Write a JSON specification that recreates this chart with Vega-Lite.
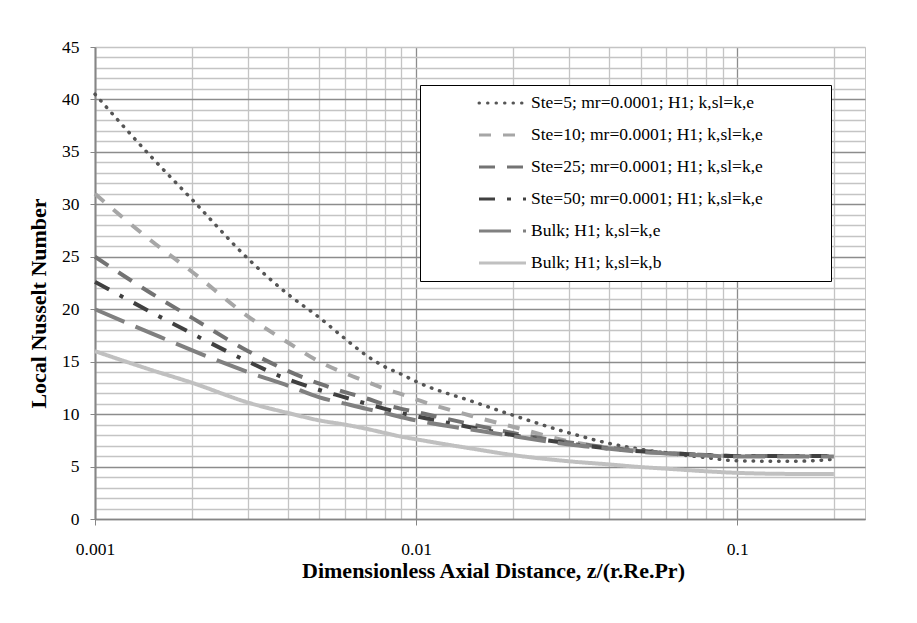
{
  "$schema": "https://vega.github.io/schema/vega-lite/v6.json",
  "width": 770,
  "height": 472,
  "autosize": "none",
  "padding": {"left": 95, "top": 47, "right": 52, "bottom": 104},
  "background": "white",
  "config": {
    "font": "Liberation Serif",
    "view": {"stroke": "#c4c4c4", "strokeWidth": 1},
    "axis": {"labelFont": "Liberation Serif", "titleFont": "Liberation Serif"},
    "legend": {"labelFont": "Liberation Serif"}
  },
  "datasets": {
    "nusselt": [
      {"z": 0.001, "Nu": 40.5, "series": "Ste=5; mr=0.0001; H1; k,sl=k,e"},
      {"z": 0.0015, "Nu": 34.5, "series": "Ste=5; mr=0.0001; H1; k,sl=k,e"},
      {"z": 0.002, "Nu": 30.5, "series": "Ste=5; mr=0.0001; H1; k,sl=k,e"},
      {"z": 0.003, "Nu": 24.8, "series": "Ste=5; mr=0.0001; H1; k,sl=k,e"},
      {"z": 0.004, "Nu": 21.4, "series": "Ste=5; mr=0.0001; H1; k,sl=k,e"},
      {"z": 0.005, "Nu": 19.2, "series": "Ste=5; mr=0.0001; H1; k,sl=k,e"},
      {"z": 0.006, "Nu": 17.2, "series": "Ste=5; mr=0.0001; H1; k,sl=k,e"},
      {"z": 0.007, "Nu": 15.6, "series": "Ste=5; mr=0.0001; H1; k,sl=k,e"},
      {"z": 0.008, "Nu": 14.5, "series": "Ste=5; mr=0.0001; H1; k,sl=k,e"},
      {"z": 0.009, "Nu": 13.8, "series": "Ste=5; mr=0.0001; H1; k,sl=k,e"},
      {"z": 0.01, "Nu": 13.1, "series": "Ste=5; mr=0.0001; H1; k,sl=k,e"},
      {"z": 0.015, "Nu": 11.2, "series": "Ste=5; mr=0.0001; H1; k,sl=k,e"},
      {"z": 0.02, "Nu": 9.9, "series": "Ste=5; mr=0.0001; H1; k,sl=k,e"},
      {"z": 0.03, "Nu": 8.2, "series": "Ste=5; mr=0.0001; H1; k,sl=k,e"},
      {"z": 0.04, "Nu": 7.2, "series": "Ste=5; mr=0.0001; H1; k,sl=k,e"},
      {"z": 0.05, "Nu": 6.65, "series": "Ste=5; mr=0.0001; H1; k,sl=k,e"},
      {"z": 0.06, "Nu": 6.3, "series": "Ste=5; mr=0.0001; H1; k,sl=k,e"},
      {"z": 0.08, "Nu": 5.85, "series": "Ste=5; mr=0.0001; H1; k,sl=k,e"},
      {"z": 0.1, "Nu": 5.55, "series": "Ste=5; mr=0.0001; H1; k,sl=k,e"},
      {"z": 0.15, "Nu": 5.5, "series": "Ste=5; mr=0.0001; H1; k,sl=k,e"},
      {"z": 0.2, "Nu": 5.7, "series": "Ste=5; mr=0.0001; H1; k,sl=k,e"},

      {"z": 0.001, "Nu": 31.0, "series": "Ste=10; mr=0.0001; H1; k,sl=k,e"},
      {"z": 0.0015, "Nu": 26.5, "series": "Ste=10; mr=0.0001; H1; k,sl=k,e"},
      {"z": 0.002, "Nu": 23.6, "series": "Ste=10; mr=0.0001; H1; k,sl=k,e"},
      {"z": 0.003, "Nu": 19.3, "series": "Ste=10; mr=0.0001; H1; k,sl=k,e"},
      {"z": 0.004, "Nu": 16.8, "series": "Ste=10; mr=0.0001; H1; k,sl=k,e"},
      {"z": 0.005, "Nu": 15.0, "series": "Ste=10; mr=0.0001; H1; k,sl=k,e"},
      {"z": 0.006, "Nu": 13.9, "series": "Ste=10; mr=0.0001; H1; k,sl=k,e"},
      {"z": 0.007, "Nu": 13.1, "series": "Ste=10; mr=0.0001; H1; k,sl=k,e"},
      {"z": 0.008, "Nu": 12.4, "series": "Ste=10; mr=0.0001; H1; k,sl=k,e"},
      {"z": 0.009, "Nu": 11.9, "series": "Ste=10; mr=0.0001; H1; k,sl=k,e"},
      {"z": 0.01, "Nu": 11.4, "series": "Ste=10; mr=0.0001; H1; k,sl=k,e"},
      {"z": 0.015, "Nu": 9.8, "series": "Ste=10; mr=0.0001; H1; k,sl=k,e"},
      {"z": 0.02, "Nu": 8.8, "series": "Ste=10; mr=0.0001; H1; k,sl=k,e"},
      {"z": 0.03, "Nu": 7.4, "series": "Ste=10; mr=0.0001; H1; k,sl=k,e"},
      {"z": 0.04, "Nu": 6.8, "series": "Ste=10; mr=0.0001; H1; k,sl=k,e"},
      {"z": 0.05, "Nu": 6.5, "series": "Ste=10; mr=0.0001; H1; k,sl=k,e"},
      {"z": 0.06, "Nu": 6.3, "series": "Ste=10; mr=0.0001; H1; k,sl=k,e"},
      {"z": 0.08, "Nu": 6.1, "series": "Ste=10; mr=0.0001; H1; k,sl=k,e"},
      {"z": 0.1, "Nu": 6.0, "series": "Ste=10; mr=0.0001; H1; k,sl=k,e"},
      {"z": 0.15, "Nu": 6.0, "series": "Ste=10; mr=0.0001; H1; k,sl=k,e"},
      {"z": 0.2, "Nu": 6.0, "series": "Ste=10; mr=0.0001; H1; k,sl=k,e"},

      {"z": 0.001, "Nu": 25.0, "series": "Ste=25; mr=0.0001; H1; k,sl=k,e"},
      {"z": 0.0015, "Nu": 21.5, "series": "Ste=25; mr=0.0001; H1; k,sl=k,e"},
      {"z": 0.002, "Nu": 19.2, "series": "Ste=25; mr=0.0001; H1; k,sl=k,e"},
      {"z": 0.003, "Nu": 16.0, "series": "Ste=25; mr=0.0001; H1; k,sl=k,e"},
      {"z": 0.004, "Nu": 14.1, "series": "Ste=25; mr=0.0001; H1; k,sl=k,e"},
      {"z": 0.005, "Nu": 12.9, "series": "Ste=25; mr=0.0001; H1; k,sl=k,e"},
      {"z": 0.006, "Nu": 12.1, "series": "Ste=25; mr=0.0001; H1; k,sl=k,e"},
      {"z": 0.007, "Nu": 11.5, "series": "Ste=25; mr=0.0001; H1; k,sl=k,e"},
      {"z": 0.008, "Nu": 10.9, "series": "Ste=25; mr=0.0001; H1; k,sl=k,e"},
      {"z": 0.009, "Nu": 10.5, "series": "Ste=25; mr=0.0001; H1; k,sl=k,e"},
      {"z": 0.01, "Nu": 10.2, "series": "Ste=25; mr=0.0001; H1; k,sl=k,e"},
      {"z": 0.015, "Nu": 9.0, "series": "Ste=25; mr=0.0001; H1; k,sl=k,e"},
      {"z": 0.02, "Nu": 8.2, "series": "Ste=25; mr=0.0001; H1; k,sl=k,e"},
      {"z": 0.03, "Nu": 7.3, "series": "Ste=25; mr=0.0001; H1; k,sl=k,e"},
      {"z": 0.04, "Nu": 6.8, "series": "Ste=25; mr=0.0001; H1; k,sl=k,e"},
      {"z": 0.05, "Nu": 6.5, "series": "Ste=25; mr=0.0001; H1; k,sl=k,e"},
      {"z": 0.06, "Nu": 6.3, "series": "Ste=25; mr=0.0001; H1; k,sl=k,e"},
      {"z": 0.08, "Nu": 6.1, "series": "Ste=25; mr=0.0001; H1; k,sl=k,e"},
      {"z": 0.1, "Nu": 6.0, "series": "Ste=25; mr=0.0001; H1; k,sl=k,e"},
      {"z": 0.15, "Nu": 6.0, "series": "Ste=25; mr=0.0001; H1; k,sl=k,e"},
      {"z": 0.2, "Nu": 6.0, "series": "Ste=25; mr=0.0001; H1; k,sl=k,e"},

      {"z": 0.001, "Nu": 22.6, "series": "Ste=50; mr=0.0001; H1; k,sl=k,e"},
      {"z": 0.0015, "Nu": 19.7, "series": "Ste=50; mr=0.0001; H1; k,sl=k,e"},
      {"z": 0.002, "Nu": 17.7, "series": "Ste=50; mr=0.0001; H1; k,sl=k,e"},
      {"z": 0.003, "Nu": 15.0, "series": "Ste=50; mr=0.0001; H1; k,sl=k,e"},
      {"z": 0.004, "Nu": 13.3, "series": "Ste=50; mr=0.0001; H1; k,sl=k,e"},
      {"z": 0.005, "Nu": 12.3, "series": "Ste=50; mr=0.0001; H1; k,sl=k,e"},
      {"z": 0.006, "Nu": 11.6, "series": "Ste=50; mr=0.0001; H1; k,sl=k,e"},
      {"z": 0.007, "Nu": 11.0, "series": "Ste=50; mr=0.0001; H1; k,sl=k,e"},
      {"z": 0.008, "Nu": 10.5, "series": "Ste=50; mr=0.0001; H1; k,sl=k,e"},
      {"z": 0.009, "Nu": 10.1, "series": "Ste=50; mr=0.0001; H1; k,sl=k,e"},
      {"z": 0.01, "Nu": 9.8, "series": "Ste=50; mr=0.0001; H1; k,sl=k,e"},
      {"z": 0.015, "Nu": 8.7, "series": "Ste=50; mr=0.0001; H1; k,sl=k,e"},
      {"z": 0.02, "Nu": 8.0, "series": "Ste=50; mr=0.0001; H1; k,sl=k,e"},
      {"z": 0.03, "Nu": 7.2, "series": "Ste=50; mr=0.0001; H1; k,sl=k,e"},
      {"z": 0.04, "Nu": 6.7, "series": "Ste=50; mr=0.0001; H1; k,sl=k,e"},
      {"z": 0.05, "Nu": 6.45, "series": "Ste=50; mr=0.0001; H1; k,sl=k,e"},
      {"z": 0.06, "Nu": 6.3, "series": "Ste=50; mr=0.0001; H1; k,sl=k,e"},
      {"z": 0.08, "Nu": 6.1, "series": "Ste=50; mr=0.0001; H1; k,sl=k,e"},
      {"z": 0.1, "Nu": 6.0, "series": "Ste=50; mr=0.0001; H1; k,sl=k,e"},
      {"z": 0.15, "Nu": 6.0, "series": "Ste=50; mr=0.0001; H1; k,sl=k,e"},
      {"z": 0.2, "Nu": 6.0, "series": "Ste=50; mr=0.0001; H1; k,sl=k,e"},

      {"z": 0.001, "Nu": 20.0, "series": "Bulk; H1; k,sl=k,e"},
      {"z": 0.0015, "Nu": 17.7, "series": "Bulk; H1; k,sl=k,e"},
      {"z": 0.002, "Nu": 16.1, "series": "Bulk; H1; k,sl=k,e"},
      {"z": 0.003, "Nu": 14.0, "series": "Bulk; H1; k,sl=k,e"},
      {"z": 0.004, "Nu": 12.7, "series": "Bulk; H1; k,sl=k,e"},
      {"z": 0.005, "Nu": 11.6, "series": "Bulk; H1; k,sl=k,e"},
      {"z": 0.006, "Nu": 11.0, "series": "Bulk; H1; k,sl=k,e"},
      {"z": 0.007, "Nu": 10.5, "series": "Bulk; H1; k,sl=k,e"},
      {"z": 0.008, "Nu": 10.1, "series": "Bulk; H1; k,sl=k,e"},
      {"z": 0.009, "Nu": 9.7, "series": "Bulk; H1; k,sl=k,e"},
      {"z": 0.01, "Nu": 9.4, "series": "Bulk; H1; k,sl=k,e"},
      {"z": 0.015, "Nu": 8.5, "series": "Bulk; H1; k,sl=k,e"},
      {"z": 0.02, "Nu": 7.9, "series": "Bulk; H1; k,sl=k,e"},
      {"z": 0.03, "Nu": 7.1, "series": "Bulk; H1; k,sl=k,e"},
      {"z": 0.04, "Nu": 6.7, "series": "Bulk; H1; k,sl=k,e"},
      {"z": 0.05, "Nu": 6.4, "series": "Bulk; H1; k,sl=k,e"},
      {"z": 0.06, "Nu": 6.25, "series": "Bulk; H1; k,sl=k,e"},
      {"z": 0.08, "Nu": 6.05, "series": "Bulk; H1; k,sl=k,e"},
      {"z": 0.1, "Nu": 5.95, "series": "Bulk; H1; k,sl=k,e"},
      {"z": 0.15, "Nu": 5.95, "series": "Bulk; H1; k,sl=k,e"},
      {"z": 0.2, "Nu": 5.95, "series": "Bulk; H1; k,sl=k,e"},

      {"z": 0.001, "Nu": 16.0, "series": "Bulk; H1; k,sl=k,b"},
      {"z": 0.0015, "Nu": 14.2, "series": "Bulk; H1; k,sl=k,b"},
      {"z": 0.002, "Nu": 13.0, "series": "Bulk; H1; k,sl=k,b"},
      {"z": 0.003, "Nu": 11.1, "series": "Bulk; H1; k,sl=k,b"},
      {"z": 0.004, "Nu": 10.1, "series": "Bulk; H1; k,sl=k,b"},
      {"z": 0.005, "Nu": 9.4, "series": "Bulk; H1; k,sl=k,b"},
      {"z": 0.006, "Nu": 9.0, "series": "Bulk; H1; k,sl=k,b"},
      {"z": 0.007, "Nu": 8.6, "series": "Bulk; H1; k,sl=k,b"},
      {"z": 0.008, "Nu": 8.2, "series": "Bulk; H1; k,sl=k,b"},
      {"z": 0.009, "Nu": 7.85, "series": "Bulk; H1; k,sl=k,b"},
      {"z": 0.01, "Nu": 7.6, "series": "Bulk; H1; k,sl=k,b"},
      {"z": 0.015, "Nu": 6.7, "series": "Bulk; H1; k,sl=k,b"},
      {"z": 0.02, "Nu": 6.1, "series": "Bulk; H1; k,sl=k,b"},
      {"z": 0.03, "Nu": 5.5, "series": "Bulk; H1; k,sl=k,b"},
      {"z": 0.04, "Nu": 5.2, "series": "Bulk; H1; k,sl=k,b"},
      {"z": 0.05, "Nu": 4.95, "series": "Bulk; H1; k,sl=k,b"},
      {"z": 0.06, "Nu": 4.8, "series": "Bulk; H1; k,sl=k,b"},
      {"z": 0.08, "Nu": 4.55, "series": "Bulk; H1; k,sl=k,b"},
      {"z": 0.1, "Nu": 4.4, "series": "Bulk; H1; k,sl=k,b"},
      {"z": 0.15, "Nu": 4.3, "series": "Bulk; H1; k,sl=k,b"},
      {"z": 0.2, "Nu": 4.3, "series": "Bulk; H1; k,sl=k,b"}
    ]
  },
  "data": {"name": "nusselt"},
  "encoding": {
    "x": {
      "field": "z",
      "type": "quantitative",
      "scale": {"type": "log", "domain": [0.001, 0.25], "nice": false},
      "axis": {
        "values": [0.001, 0.002, 0.003, 0.004, 0.005, 0.006, 0.007, 0.008, 0.009, 0.01, 0.02, 0.03, 0.04, 0.05, 0.06, 0.07, 0.08, 0.09, 0.1, 0.2],
        "title": "Dimensionless Axial Distance, z/(r.Re.Pr)",
        "titleFontSize": 22,
        "titleFontWeight": "bold",
        "titleColor": "black",
        "titlePadding": 3,
        "titleX": 398,
        "labelExpr": "datum.value == 0.001 || datum.value == 0.01 || datum.value == 0.1 ? format(datum.value, '~g') : ''",
        "labelFontSize": 17.5,
        "labelColor": "black",
        "labelPadding": 15,
        "labelFlush": false,
        "labelOverlap": false,
        "tickSize": 6,
        "tickColor": "#868686",
        "tickOpacity": {"condition": {"test": "datum.value == 0.001 || datum.value == 0.01 || datum.value == 0.1", "value": 1}, "value": 0},
        "gridColor": {"condition": {"test": "datum.value == 0.001 || datum.value == 0.01 || datum.value == 0.1", "value": "#8c8c8c"}, "value": "#c4c4c4"},
        "gridWidth": 1.3,
        "domainColor": "#868686",
        "domainWidth": 1.5
      }
    },
    "y": {
      "field": "Nu",
      "type": "quantitative",
      "scale": {"domain": [0, 45], "nice": false},
      "axis": {
        "values": [0, 1, 2, 3, 4, 5, 6, 7, 8, 9, 10, 11, 12, 13, 14, 15, 16, 17, 18, 19, 20, 21, 22, 23, 24, 25, 26, 27, 28, 29, 30, 31, 32, 33, 34, 35, 36, 37, 38, 39, 40, 41, 42, 43, 44, 45],
        "title": "Local Nusselt Number",
        "titleFontSize": 22,
        "titleFontWeight": "bold",
        "titleColor": "black",
        "titlePadding": 11,
        "titleY": 256,
        "labelExpr": "datum.value % 5 == 0 ? datum.label : ''",
        "labelFontSize": 17.5,
        "labelColor": "black",
        "labelPadding": 11,
        "labelFlush": false,
        "labelOverlap": false,
        "tickSize": 5,
        "tickColor": "#868686",
        "tickOpacity": {"condition": {"test": "datum.value % 5 == 0", "value": 1}, "value": 0},
        "gridColor": {"condition": {"test": "datum.value % 5 == 0 && datum.value < 45", "value": "#8c8c8c"}, "value": "#c4c4c4"},
        "gridWidth": 1.3,
        "domainColor": "#868686",
        "domainWidth": 2
      }
    },
    "color": {
      "field": "series",
      "type": "nominal",
      "scale": {
        "domain": ["Ste=5; mr=0.0001; H1; k,sl=k,e", "Ste=10; mr=0.0001; H1; k,sl=k,e", "Ste=25; mr=0.0001; H1; k,sl=k,e", "Ste=50; mr=0.0001; H1; k,sl=k,e", "Bulk; H1; k,sl=k,e", "Bulk; H1; k,sl=k,b"],
        "range": ["#555555", "#a6a6a6", "#737373", "#404040", "#808080", "#c0c0c0"]
      },
      "legend": {
        "title": null,
        "orient": "none",
        "legendX": 325,
        "legendY": 38,
        "direction": "vertical",
        "symbolType": "stroke",
        "symbolSize": 2209,
        "symbolStrokeWidth": 3,
        "symbolOffset": 55.5,
        "labelOffset": 3.5,
        "labelFontSize": 17.5,
        "labelColor": "black",
        "labelLimit": 500,
        "labelExpr": "datum.label + '\u00a0\u00a0\u00a0\u00a0\u00a0\u00a0\u00a0\u00a0\u00a0\u00a0\u00a0\u00a0\u00a0\u00a0\u00a0\u200b'",
        "clipHeight": 32,
        "rowPadding": 0,
        "padding": 2,
        "strokeColor": "black",
        "fillColor": "white",
        "encode": {
          "symbols": {
            "update": {
              "strokeCap": {"signal": "(datum.value == 'Ste=5; mr=0.0001; H1; k,sl=k,e' ? 'round' : 'butt')"},
              "strokeDash": {"signal": "(datum.value == 'Ste=5; mr=0.0001; H1; k,sl=k,e' ? [0.1, 5.5] : datum.value == 'Ste=10; mr=0.0001; H1; k,sl=k,e' ? [7, 3] : datum.value == 'Ste=25; mr=0.0001; H1; k,sl=k,e' ? [12, 5] : datum.value == 'Ste=50; mr=0.0001; H1; k,sl=k,e' ? [12, 13, 2.5, 3.5, 10, 10] : datum.value == 'Bulk; H1; k,sl=k,e' ? [21, 10] : [1, 0])"}
            }
          }
        }
      }
    },
    "strokeDash": {
      "field": "series",
      "type": "nominal",
      "scale": {
        "domain": ["Ste=5; mr=0.0001; H1; k,sl=k,e", "Ste=10; mr=0.0001; H1; k,sl=k,e", "Ste=25; mr=0.0001; H1; k,sl=k,e", "Ste=50; mr=0.0001; H1; k,sl=k,e", "Bulk; H1; k,sl=k,e", "Bulk; H1; k,sl=k,b"],
        "range": [[0.5, 8], [12, 12], [16, 12], [16, 12, 4, 12], [32, 12], [1, 0]]
      }
    }
  },
  "layer": [
    {
      "transform": [{"filter": "datum.series == 'Ste=5; mr=0.0001; H1; k,sl=k,e'"}],
      "mark": {"type": "line", "strokeWidth": 3.5, "strokeCap": "round", "interpolate": "monotone"}
    },
    {
      "transform": [{"filter": "datum.series != 'Ste=5; mr=0.0001; H1; k,sl=k,e'"}],
      "mark": {"type": "line", "strokeWidth": 4, "strokeCap": "butt", "interpolate": "monotone"}
    }
  ]
}
